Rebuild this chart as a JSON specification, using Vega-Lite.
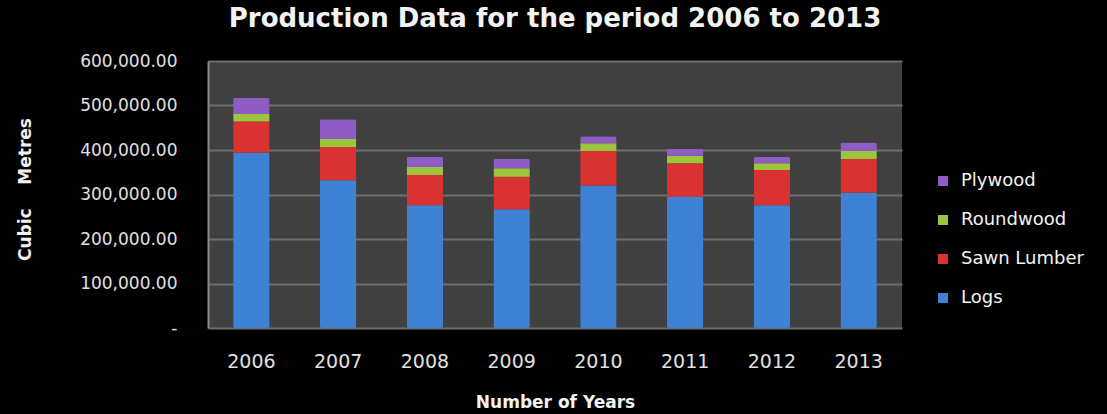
{
  "$schema": "https://vega.github.io/schema/vega-lite/v6.json",
  "width": 694,
  "height": 267,
  "autosize": {"type": "none"},
  "padding": {"left": 208, "top": 61, "right": 205, "bottom": 86},
  "background": "#000000",
  "title": {
    "text": "Production Data for the period 2006 to 2013",
    "color": "#f2f2f2",
    "font": "DejaVu Sans",
    "fontSize": 26,
    "fontWeight": "bold",
    "anchor": "middle",
    "offset": 20
  },
  "config": {
    "view": {"fill": "#404040", "stroke": null},
    "font": "DejaVu Sans"
  },
  "data": {
    "values": [
      {"year": "2006", "product": "Logs", "ord": 1, "value": 394000},
      {"year": "2006", "product": "Sawn Lumber", "ord": 2, "value": 70000},
      {"year": "2006", "product": "Roundwood", "ord": 3, "value": 17000},
      {"year": "2006", "product": "Plywood", "ord": 4, "value": 36000},
      {"year": "2007", "product": "Logs", "ord": 1, "value": 332000},
      {"year": "2007", "product": "Sawn Lumber", "ord": 2, "value": 75000},
      {"year": "2007", "product": "Roundwood", "ord": 3, "value": 18000},
      {"year": "2007", "product": "Plywood", "ord": 4, "value": 44000},
      {"year": "2008", "product": "Logs", "ord": 1, "value": 276000},
      {"year": "2008", "product": "Sawn Lumber", "ord": 2, "value": 68000},
      {"year": "2008", "product": "Roundwood", "ord": 3, "value": 18000},
      {"year": "2008", "product": "Plywood", "ord": 4, "value": 23000},
      {"year": "2009", "product": "Logs", "ord": 1, "value": 267000},
      {"year": "2009", "product": "Sawn Lumber", "ord": 2, "value": 73000},
      {"year": "2009", "product": "Roundwood", "ord": 3, "value": 19000},
      {"year": "2009", "product": "Plywood", "ord": 4, "value": 21000},
      {"year": "2010", "product": "Logs", "ord": 1, "value": 320000},
      {"year": "2010", "product": "Sawn Lumber", "ord": 2, "value": 78000},
      {"year": "2010", "product": "Roundwood", "ord": 3, "value": 17000},
      {"year": "2010", "product": "Plywood", "ord": 4, "value": 16000},
      {"year": "2011", "product": "Logs", "ord": 1, "value": 295000},
      {"year": "2011", "product": "Sawn Lumber", "ord": 2, "value": 75000},
      {"year": "2011", "product": "Roundwood", "ord": 3, "value": 17000},
      {"year": "2011", "product": "Plywood", "ord": 4, "value": 15000},
      {"year": "2012", "product": "Logs", "ord": 1, "value": 276000},
      {"year": "2012", "product": "Sawn Lumber", "ord": 2, "value": 79000},
      {"year": "2012", "product": "Roundwood", "ord": 3, "value": 15000},
      {"year": "2012", "product": "Plywood", "ord": 4, "value": 14000},
      {"year": "2013", "product": "Logs", "ord": 1, "value": 304000},
      {"year": "2013", "product": "Sawn Lumber", "ord": 2, "value": 76000},
      {"year": "2013", "product": "Roundwood", "ord": 3, "value": 18000},
      {"year": "2013", "product": "Plywood", "ord": 4, "value": 19000}
    ]
  },
  "mark": {"type": "bar", "cornerRadius": 2},
  "encoding": {
    "x": {
      "field": "year",
      "type": "nominal",
      "scale": {"paddingInner": 0.58, "paddingOuter": 0.29},
      "axis": {
        "title": "Number of Years",
        "titleColor": "#f2f2f2",
        "titleFontSize": 17,
        "titleFontWeight": "bold",
        "titleY": 74,
        "titleBaseline": "middle",
        "labelAngle": 0,
        "labelColor": "#e0e0e0",
        "labelFontSize": 19,
        "labelPadding": 24,
        "ticks": false,
        "domain": false,
        "grid": false
      }
    },
    "y": {
      "field": "value",
      "type": "quantitative",
      "stack": "zero",
      "scale": {"domain": [0, 600000]},
      "axis": {
        "title": "Cubic\u00a0\u00a0\u00a0\u00a0Metres",
        "titleColor": "#f2f2f2",
        "titleFontSize": 17,
        "titleFontWeight": "bold",
        "titleX": -183,
        "titleY": 128,
        "titleAngle": -90,
        "titleBaseline": "middle",
        "titleAlign": "center",
        "values": [0, 100000, 200000, 300000, 400000, 500000, 600000],
        "labelExpr": "datum.value == 0 ? '-\u00a0\u00a0\u00a0\u00a0' : format(datum.value, ',.2f')",
        "labelColor": "#e0e0e0",
        "labelFontSize": 17,
        "labelPadding": 31,
        "ticks": false,
        "domain": true,
        "domainColor": "#8a8a8a",
        "domainWidth": 2,
        "grid": true,
        "gridColor": "#6e6e6e",
        "gridWidth": 2
      }
    },
    "color": {
      "field": "product",
      "type": "nominal",
      "scale": {
        "domain": ["Plywood", "Roundwood", "Sawn Lumber", "Logs"],
        "range": ["#8e5cc4", "#9cc43c", "#d83232", "#3d82d4"]
      },
      "legend": {
        "title": null,
        "orient": "none",
        "legendX": 726,
        "legendY": 111,
        "symbolType": "square",
        "symbolSize": 100,
        "symbolStrokeWidth": 0,
        "labelColor": "#f2f2f2",
        "labelFontSize": 18,
        "labelOffset": 9,
        "rowPadding": 21
      }
    },
    "order": {"field": "ord", "type": "quantitative"}
  }
}
